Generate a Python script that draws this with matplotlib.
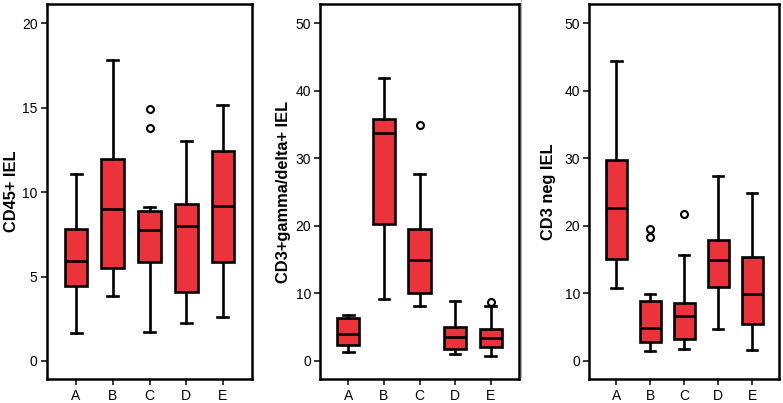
import matplotlib
matplotlib.use("Agg")
import matplotlib.pyplot as plt
from matplotlib.lines import Line2D

plt.rcParams['font.family'] = ['Liberation Sans', 'DejaVu Sans']

groups = ['A', 'B', 'C', 'D', 'E']

# CD45+ IEL
cd45_lo = [1.66, 3.87, 1.70, 2.27, 2.59]
cd45_q1 = [4.47, 5.53, 5.85, 4.11, 5.89]
cd45_med = [5.95, 9.03, 7.75, 8.02, 9.19]
cd45_q3 = [7.79, 11.96, 8.87, 9.31, 12.43]
cd45_hi = [11.09, 17.83, 9.13, 13.06, 15.18]
cd45_out = [[], [], [13.79, 14.92], [], []]

# CD3+gamma/delta+ IEL
gd_lo = [1.28, 9.11, 8.13, 1.08, 0.69]
gd_q1 = [2.32, 20.34, 10.10, 1.77, 2.12]
gd_med = [3.94, 33.69, 14.98, 3.60, 3.35]
gd_q3 = [6.35, 35.86, 19.61, 5.07, 4.68]
gd_hi = [6.85, 41.87, 27.68, 8.82, 8.2]
gd_out = [[], [], [34.88], [], [8.67]]

# CD3 neg IEL
neg_lo = [10.74, 1.48, 1.82, 4.68, 1.58]
neg_q1 = [15.17, 2.76, 3.25, 10.89, 5.47]
neg_med = [22.61, 4.88, 6.60, 14.88, 9.90]
neg_q3 = [29.80, 8.87, 8.62, 17.93, 15.42]
neg_hi = [44.43, 9.95, 15.71, 27.39, 24.83]
neg_out = [[], [18.42, 19.61], [21.72], [], []]

red = '#EC333B'
W, H = 783, 403
lw = 1.9


def draw_panel(rect, lo, q1, med, q3, hi, out, ylabel, ylim, yticks, labx):
    ax = fig.add_axes(rect)
    stats = []
    for i in range(len(groups)):
        stats.append(dict(whislo=lo[i], q1=q1[i], med=med[i], q3=q3[i],
                          whishi=hi[i], fliers=out[i], label=groups[i]))
    ax.bxp(stats, positions=range(1, 6), widths=0.62, capwidths=0.3,
           patch_artist=True, showfliers=True,
           boxprops=dict(facecolor=red, edgecolor='black', linewidth=lw),
           medianprops=dict(color='black', linewidth=lw),
           whiskerprops=dict(color='black', linewidth=lw),
           capprops=dict(color='black', linewidth=lw),
           flierprops=dict(marker='o', markerfacecolor='white',
                           markeredgecolor='black', markersize=5,
                           markeredgewidth=1.5))
    ax.set_xlim(0.2, 5.8)
    ax.set_ylim(*ylim)
    ax.set_yticks(yticks)
    ax.set_xticks(range(1, 6))
    ax.set_xticklabels(groups)
    ax.tick_params(axis='both', direction='out', length=4.5, width=1.1,
                   labelsize=10, colors='black', pad=2)
    ax.tick_params(axis='x', pad=3)
    for s in ax.spines.values():
        s.set_linewidth(1.8)
    ax.set_ylabel(ylabel, fontsize=11.8, fontweight='bold')
    ax.yaxis.set_label_coords(labx, 0.5)
    return ax


fig = plt.figure(figsize=(W / 100, H / 100), dpi=100)

bot = 1 - 379 / H
hgt = 375 / H
draw_panel([46.7 / W, bot, 205.6 / W, hgt], cd45_lo, cd45_q1, cd45_med,
           cd45_q3, cd45_hi, cd45_out, 'CD45+ IEL', (-1.07, 21.15),
           [0, 5, 10, 15, 20], -0.137)
draw_panel([320 / W, bot, 199 / W, hgt], gd_lo, gd_q1, gd_med,
           gd_q3, gd_hi, gd_out, 'CD3+gamma/delta+ IEL', (-2.67, 52.86),
           [0, 10, 20, 30, 40, 50], -0.148)
draw_panel([589.3 / W, bot, 190 / W, hgt], neg_lo, neg_q1, neg_med,
           neg_q3, neg_hi, neg_out, 'CD3 neg IEL', (-2.67, 52.86),
           [0, 10, 20, 30, 40, 50], -0.173)

# thin grey separator line seen in the original image
fig.add_artist(Line2D([520.5 / W, 520.5 / W], [1, 1 - 377 / H],
                      transform=fig.transFigure, color='#b0b0b0', lw=0.8))

plt.savefig("out.png", dpi=100)
